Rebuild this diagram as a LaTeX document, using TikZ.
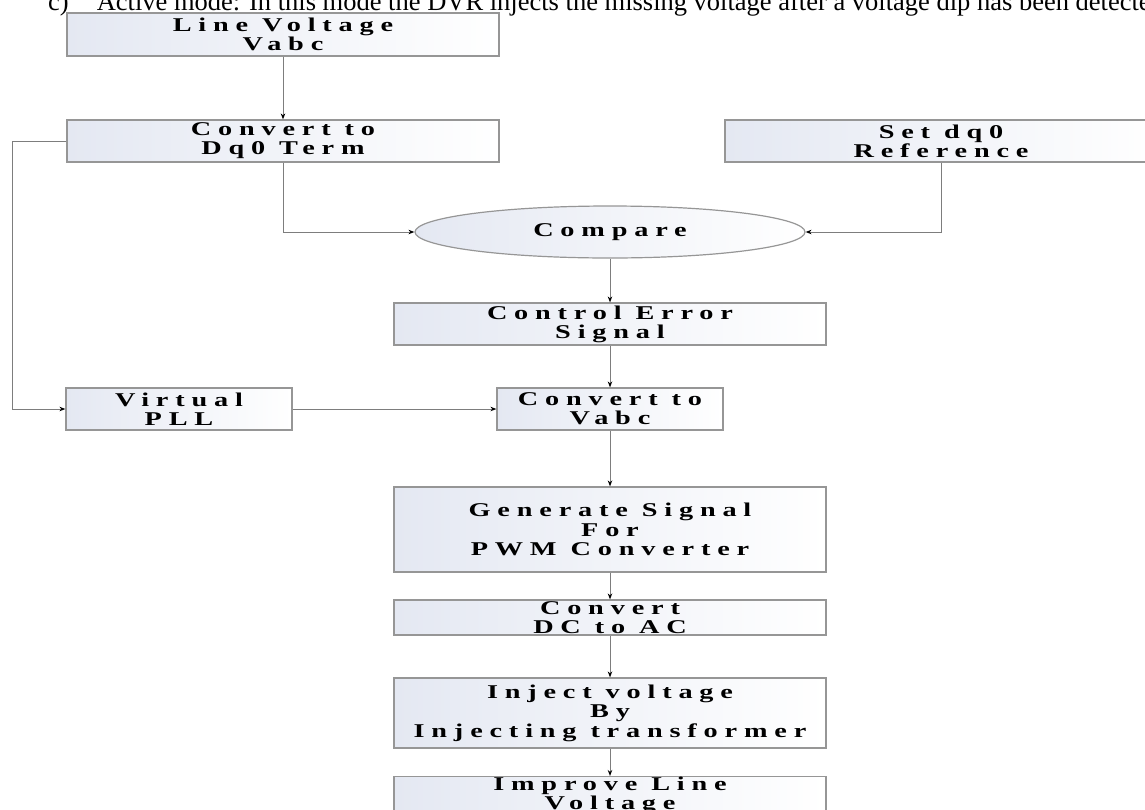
\documentclass[tikz,border=0pt]{standalone}
\usepackage{fontspec}
\setmainfont{Liberation Serif}
\newfontfamily\boxfont[FakeStretch=1.45,LetterSpace=35]{Liberation Serif Bold}
\usetikzlibrary{shapes.geometric,arrows.meta}
\definecolor{boxl}{RGB}{228,232,242}
\definecolor{boxline}{RGB}{150,150,150}
\definecolor{conn}{RGB}{125,125,125}
\begin{document}
\begin{tikzpicture}[x=1pt,y=-1pt,
  box/.style={draw=boxline, line width=1.2pt, left color=boxl, right color=white,
    inner sep=0pt, align=center, minimum width=432pt,
    font={\boxfont\fontsize{19.5}{19}\selectfont}},
  tallbox/.style={box, font={\boxfont\fontsize{19.5}{19.5}\selectfont}},
  smallbox/.style={box, minimum width=226pt},
  cmpnode/.style={box, ellipse, minimum width=390pt, minimum height=52pt},
  arr/.style={draw=conn, line width=1pt, -{Stealth[length=6pt,width=4.5pt,color=black]}},
  title/.style={anchor=base west, inner sep=0pt, font={\fontsize{26.5}{30}\selectfont}}
]
\path[use as bounding box] (0,0) rectangle (1145,809);
\clip (0,0) rectangle (1145,809);

\node[title] (ttl) at (48,10) {c)\hspace{28pt}Active mode: In this mode the DVR injects the missing voltage after a voltage dip has been detected.};

\node[box, minimum height=43pt] (lv)  at (283,34.5) {Line Voltage\\Vabc};
\node[box, minimum height=42pt] (dq)  at (283,141) {Convert to\\Dq0 Term};
\node[box, minimum height=42pt] (set) at (941,141) {Set dq0\\Reference};
\node[cmpnode] (cmp) at (610,232) {Compare};
\node[box, minimum height=42pt] (ce)  at (610,324) {Control Error\\Signal};
\node[smallbox, minimum height=42pt] (pll) at (179,409) {Virtual\\PLL};
\node[smallbox, minimum height=42pt] (cv)  at (610,409) {Convert to\\Vabc};
\node[tallbox, minimum height=85pt] (gen) at (610,529.5) {Generate Signal\\For\\PWM Converter};
\node[box, minimum height=35pt] (dc)  at (610,617.5) {Convert\\DC to AC};
\node[tallbox, minimum height=70pt] (inj) at (610,713) {Inject voltage\\By\\Injecting transformer};
\node[box, minimum height=36pt] (imp) at (610,795) {Improve Line\\Voltage};

\coordinate (fb) at (12,0);

\draw[arr] (lv) -- (dq);
\draw[arr] (dq.south) |- (cmp.west);
\draw[arr] (set.south) |- (cmp.east);
\draw[arr] (cmp) -- (ce);
\draw[arr] (ce) -- (cv);
\draw[arr] (dq.west) -- (dq.west -| fb) |- (pll.west);
\draw[arr] (pll) -- (cv);
\draw[arr] (cv) -- (gen);
\draw[arr] (gen) -- (dc);
\draw[arr] (dc) -- (inj);
\draw[arr] (inj) -- (imp);
\end{tikzpicture}
\end{document}
